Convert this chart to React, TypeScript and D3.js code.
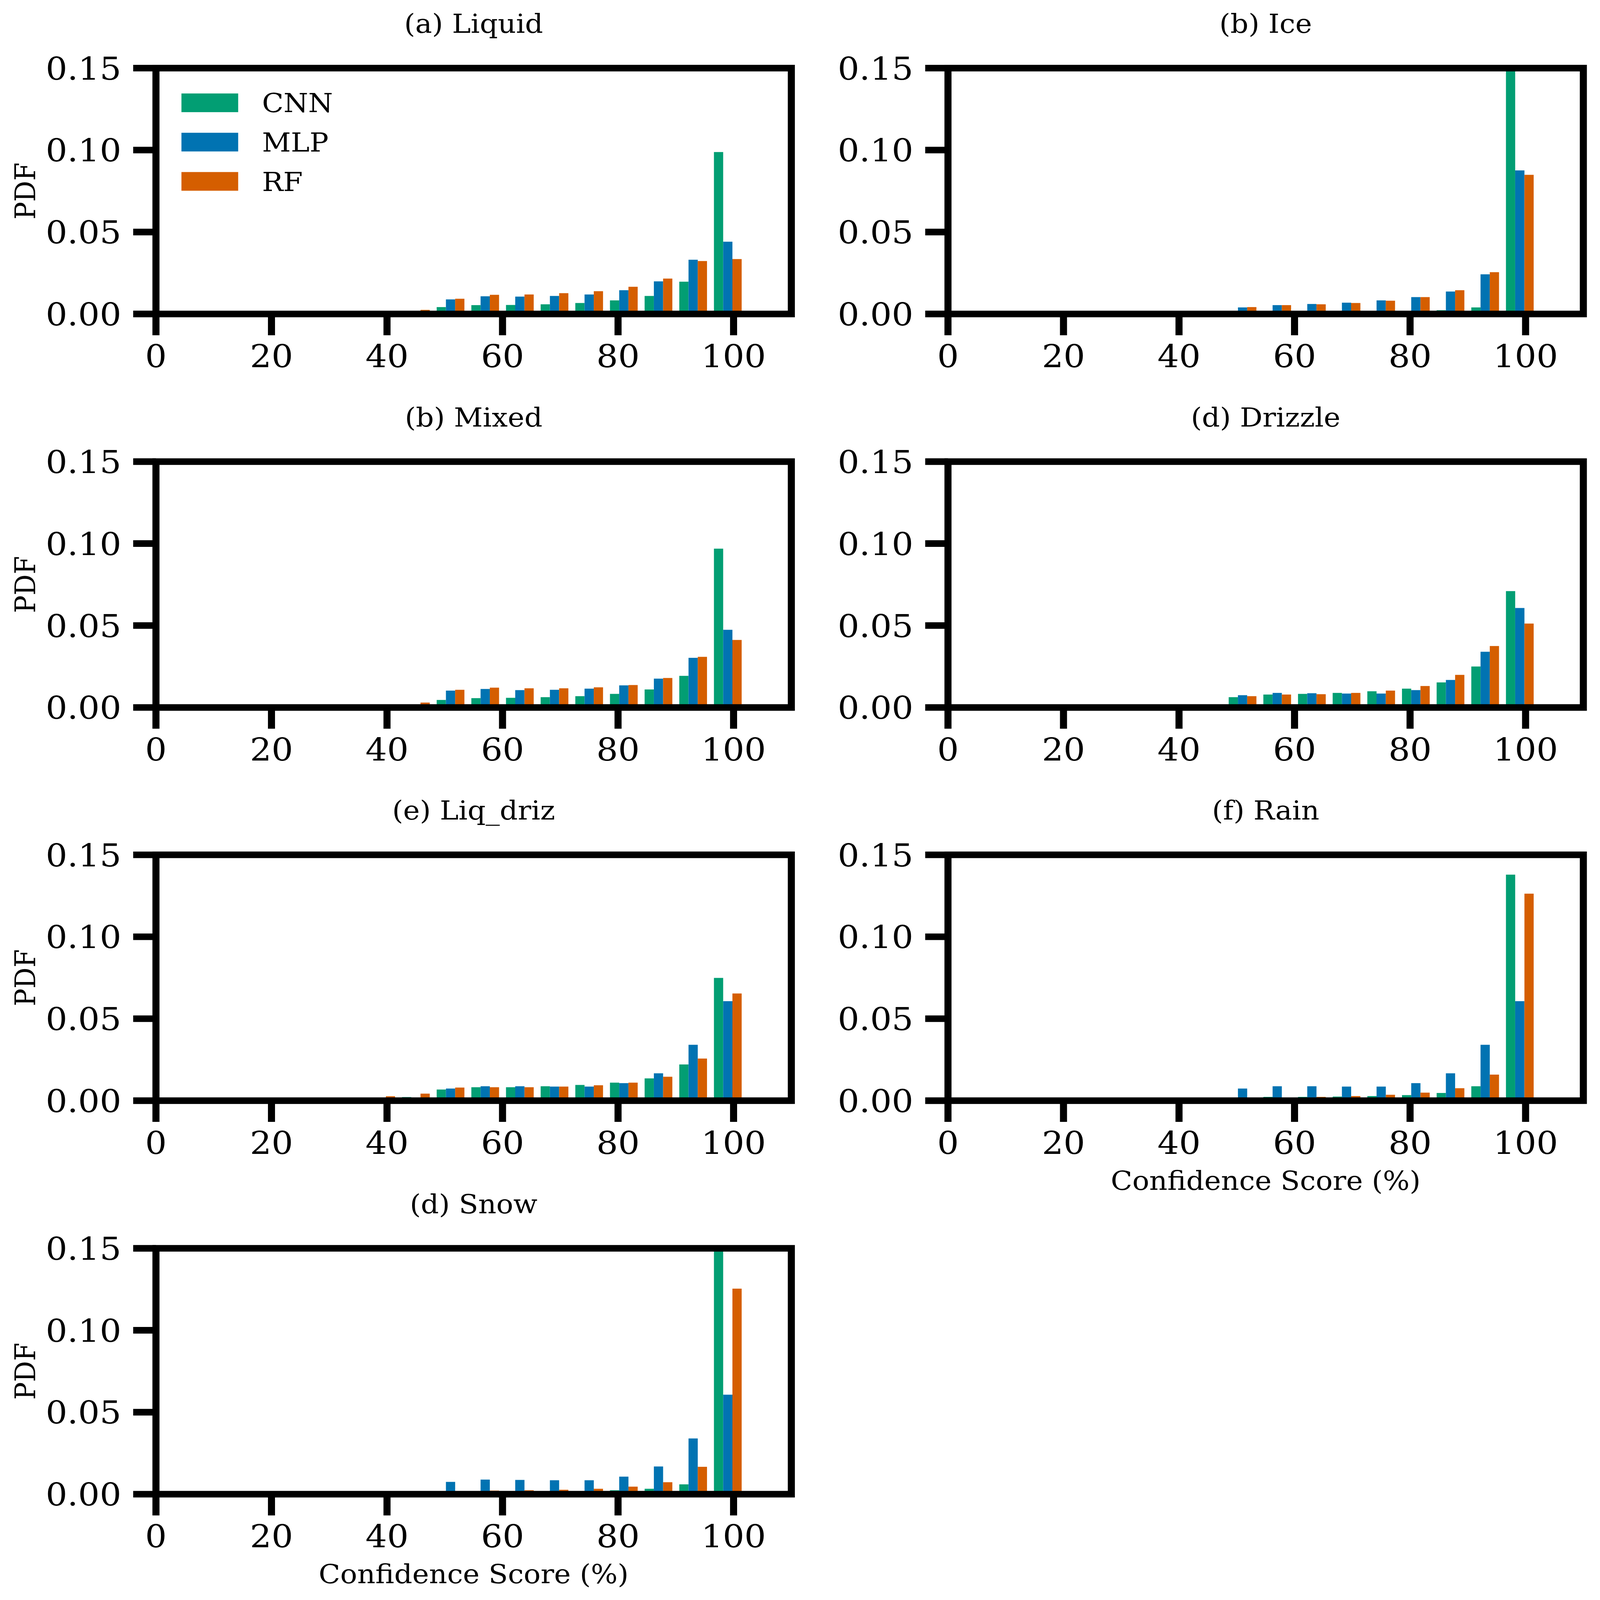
import React from 'react';
import * as d3 from 'd3';

// histogram bins (left edges, width 6) shared by every panel
const binStarts = [36, 42, 48, 54, 60, 66, 72, 78, 84, 90, 96];
const binWidth = 6;

const models = ['CNN', 'MLP', 'RF'];
const modelColors = ['#029e73', '#0173b2', '#d55e00'];

const xTicks = [0, 20, 40, 60, 80, 100];
const yTicks = [0, 0.05, 0.1, 0.15];
const yTickLabels = ['0.00', '0.05', '0.10', '0.15'];

// values (PDF per bin)
const liquidCNN = [0, 0, 0.0042, 0.0054, 0.0055, 0.0059, 0.0067, 0.0083, 0.011, 0.0197, 0.0988];
const liquidMLP = [0, 0, 0.0089, 0.0108, 0.0106, 0.011, 0.0119, 0.0145, 0.0199, 0.0331, 0.0441];
const liquidRF = [0, 0.0025, 0.0093, 0.0117, 0.0119, 0.0127, 0.0139, 0.0166, 0.0216, 0.0323, 0.0335];

const iceCNN = [0, 0, 0, 0, 0, 0, 0, 0, 0.0023, 0.004, 0.19];
const iceMLP = [0, 0, 0.004, 0.0054, 0.0061, 0.0069, 0.0083, 0.0103, 0.0137, 0.0242, 0.0876];
const iceRF = [0, 0, 0.0042, 0.0054, 0.0059, 0.0067, 0.0081, 0.0103, 0.0145, 0.0255, 0.0849];

const mixedCNN = [0, 0, 0.0046, 0.0057, 0.0059, 0.0063, 0.0069, 0.0083, 0.011, 0.0193, 0.0969];
const mixedMLP = [0, 0, 0.0103, 0.0113, 0.0106, 0.0108, 0.0115, 0.0135, 0.0176, 0.0303, 0.0474];
const mixedRF = [0, 0.003, 0.0108, 0.0121, 0.0117, 0.0117, 0.0123, 0.0137, 0.018, 0.0309, 0.0412];

const drizzleCNN = [0, 0, 0.0063, 0.0079, 0.0083, 0.0089, 0.0099, 0.0115, 0.0153, 0.025, 0.071];
const drizzleMLP = [0, 0, 0.0075, 0.0089, 0.0087, 0.0085, 0.0085, 0.0106, 0.0168, 0.034, 0.0607];
const drizzleRF = [0, 0, 0.0069, 0.0079, 0.0081, 0.0089, 0.0103, 0.0131, 0.0199, 0.0375, 0.0512];

const liqDrizCNN = [0, 0.0022, 0.0068, 0.0082, 0.0082, 0.0088, 0.0096, 0.011, 0.0136, 0.0221, 0.0749];
const liqDrizMLP = [0, 0, 0.0074, 0.0088, 0.0088, 0.0086, 0.0086, 0.0107, 0.0167, 0.0341, 0.0607];
const liqDrizRF = [0.0027, 0.0043, 0.008, 0.0082, 0.0082, 0.0086, 0.0094, 0.011, 0.0146, 0.0257, 0.0654];

const rainCNN = [0, 0, 0, 0.0023, 0.0023, 0.0025, 0.0028, 0.0034, 0.0047, 0.0088, 0.1379];
const rainMLP = [0, 0, 0.0074, 0.0088, 0.0088, 0.0086, 0.0086, 0.0107, 0.0167, 0.0341, 0.0607];
const rainRF = [0, 0, 0, 0, 0.0023, 0.0028, 0.0036, 0.0049, 0.0076, 0.0159, 0.1263];

const snowCNN = [0, 0, 0, 0, 0, 0, 0, 0.0024, 0.0033, 0.006, 0.19];
const snowMLP = [0, 0, 0.0075, 0.0089, 0.0087, 0.0085, 0.0085, 0.0107, 0.0169, 0.034, 0.0607];
const snowRF = [0, 0, 0, 0.0022, 0.0024, 0.0027, 0.0033, 0.0046, 0.0073, 0.0167, 0.1254];

const panels = [
  { title: '(a) Liquid', series: [liquidCNN, liquidMLP, liquidRF], col: 0, row: 0, legend: true, xlabel: false },
  { title: '(b) Ice', series: [iceCNN, iceMLP, iceRF], col: 1, row: 0, legend: false, xlabel: false },
  { title: '(b) Mixed', series: [mixedCNN, mixedMLP, mixedRF], col: 0, row: 1, legend: false, xlabel: false },
  { title: '(d) Drizzle', series: [drizzleCNN, drizzleMLP, drizzleRF], col: 1, row: 1, legend: false, xlabel: false },
  { title: '(e) Liq_driz', series: [liqDrizCNN, liqDrizMLP, liqDrizRF], col: 0, row: 2, legend: false, xlabel: false },
  { title: '(f) Rain', series: [rainCNN, rainMLP, rainRF], col: 1, row: 2, legend: false, xlabel: true },
  { title: '(d) Snow', series: [snowCNN, snowMLP, snowRF], col: 0, row: 3, legend: false, xlabel: true },
];

const W = 4709;
const H = 5050;
const colX = [459, 2790];
const rowY = [215, 1457, 2698, 3940];
const axW = 1870;
const axH = 776;
const lw = 20.8;
const tickLen = 67;
const font = 'DejaVu Serif';

const x = d3.scaleLinear().domain([0, 110]).range([0, axW]);
const y = d3.scaleLinear().domain([0, 0.15]).range([axH, 0]);

function Panel({ p, i }: { p: typeof panels[number]; i: number }) {
  const left = colX[p.col];
  const top = rowY[p.row];
  const barW = x((0.8 * binWidth) / 3) - x(0);
  const clipId = `clip-${i}`;
  return (
    <g transform={`translate(${left},${top})`}>
      <clipPath id={clipId}>
        <rect x={0} y={0} width={axW} height={axH} />
      </clipPath>
      <g clipPath={`url(#${clipId})`}>
        {p.series.map((vals, s) =>
          vals.map((v, b) =>
            v > 0 ? (
              <rect
                key={`${s}-${b}`}
                x={x(binStarts[b] + 0.1 * binWidth) + s * barW}
                y={y(v)}
                width={barW}
                height={y(0) - y(v)}
                fill={modelColors[s]}
              />
            ) : null
          )
        )}
      </g>
      <text x={axW / 2} y={-111} fontSize={83} fontFamily={font} textAnchor="middle">
        {p.title}
      </text>
      {p.legend &&
        models.map((m, k) => (
          <g key={m}>
            <rect x={75} y={80 + k * 124} width={167} height={59} fill={modelColors[k]} />
            <text x={312} y={80 + k * 124 + 29.5} dy="0.36em" fontSize={83} fontFamily={font}>
              {m}
            </text>
          </g>
        ))}
      <rect x={0} y={0} width={axW} height={axH} fill="none" stroke="#000" strokeWidth={lw} />
      {yTicks.map((t, k) => (
        <g key={t}>
          <line x1={0} x2={-tickLen} y1={y(t)} y2={y(t)} stroke="#000" strokeWidth={lw} />
          <text x={-102} y={y(t)} dy="0.36em" fontSize={100} fontFamily={font} textAnchor="end">
            {yTickLabels[k]}
          </text>
        </g>
      ))}
      {xTicks.map((t) => (
        <g key={t}>
          <line x1={x(t)} x2={x(t)} y1={axH} y2={axH + tickLen} stroke="#000" strokeWidth={lw} />
          <text x={x(t)} y={axH + 168} fontSize={100} fontFamily={font} textAnchor="middle">
            {t}
          </text>
        </g>
      ))}
      {p.col === 0 && (
        <text
          transform={`translate(${103 - left},${axH / 2}) rotate(-90)`}
          fontSize={83}
          fontFamily={font}
          textAnchor="middle"
        >
          PDF
        </text>
      )}
      {p.xlabel && (
        <text x={axW / 2} y={axH + 281} fontSize={83} fontFamily={font} textAnchor="middle">
          Confidence Score (%)
        </text>
      )}
    </g>
  );
}

export default function App() {
  // fill the window exactly; viewBox keeps the figure's own coordinates
  return (
    <svg
      viewBox={`0 0 ${W} ${H}`}
      preserveAspectRatio="none"
      style={{ position: 'fixed', left: 0, top: 0, width: '100vw', height: '100vh', background: '#fff' }}
    >
      <rect width={W} height={H} fill="#fff" />
      {panels.map((p, i) => (
        <Panel key={p.title} p={p} i={i} />
      ))}
    </svg>
  );
}
